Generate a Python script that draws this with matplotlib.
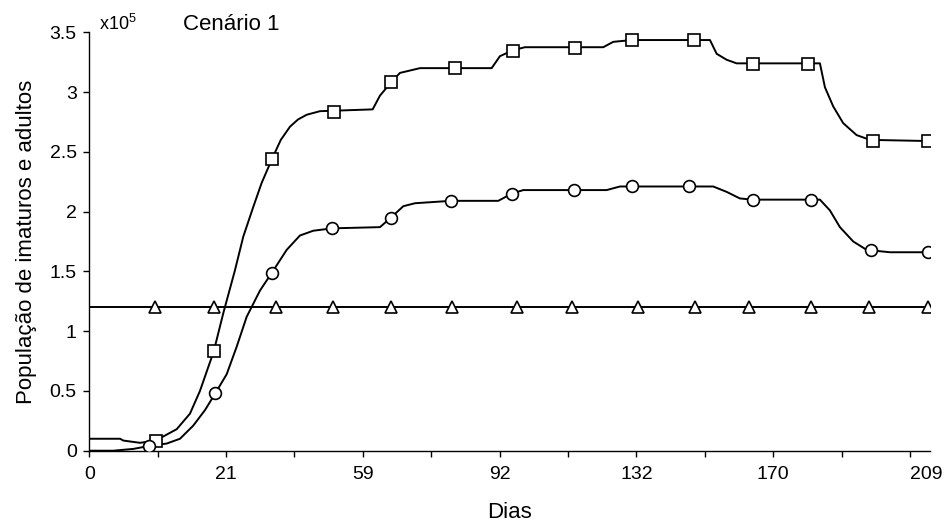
import matplotlib
matplotlib.use("Agg")
import matplotlib.pyplot as plt

plt.rcParams['font.family'] = ['Liberation Sans', 'DejaVu Sans']

# Category-axis positions (tick index units) and labels
tick_labels = ['0', '21', '59', '92', '132', '170', '209']

# Upper curve (squares) - values in units of 1e5
sq_x = [0.0, 0.45, 0.497, 0.741, 0.971, 1.278, 1.472, 1.618, 1.819, 1.959, 2.130, 2.251,
        2.398, 2.520, 2.671, 2.80, 2.934, 3.05, 3.178, 3.373, 4.143, 4.250, 4.411, 4.542, 4.835,
        5.883, 6.004, 6.195, 6.370, 7.515, 7.661, 7.934, 9.075, 9.173, 9.319, 9.465,
        10.683, 10.756, 10.877, 11.023, 11.219, 11.414, 12.29]
sq_y = [0.10, 0.10, 0.085, 0.066, 0.085, 0.18, 0.31, 0.50, 0.83, 1.15, 1.51, 1.79,
        2.04, 2.24, 2.44, 2.60, 2.71, 2.77, 2.81, 2.84, 2.855, 2.97, 3.08, 3.16, 3.20,
        3.20, 3.30, 3.35, 3.375, 3.375, 3.42, 3.435, 3.435, 3.32, 3.27, 3.24,
        3.24, 3.04, 2.88, 2.74, 2.64, 2.60, 2.59]
sq_mx = [0.971, 1.819, 2.671, 3.577, 4.411, 5.347, 6.195, 7.105, 7.934, 8.845,
         9.699, 10.503, 11.462, 12.262]
sq_my = [0.085, 0.83, 2.44, 2.835, 3.08, 3.20, 3.345, 3.37, 3.435, 3.435,
         3.235, 3.235, 2.59, 2.59]

# Middle curve (circles)
ci_x = [0.0, 0.351, 0.643, 0.877, 1.132, 1.326, 1.520, 1.692, 1.842, 2.009, 2.155,
        2.301, 2.496, 2.671, 2.886, 3.080, 3.275, 3.553, 4.250, 4.411, 4.591, 4.762,
        5.288, 5.980, 6.175, 6.345, 7.564, 7.759, 9.123, 9.319, 9.513, 9.699,
        10.683, 10.829, 10.975, 11.170, 11.366, 11.706, 12.29]
ci_y = [0.0, 0.0, 0.015, 0.04, 0.06, 0.10, 0.21, 0.34, 0.48, 0.64, 0.87,
        1.12, 1.34, 1.49, 1.68, 1.80, 1.84, 1.86, 1.87, 1.95, 2.045, 2.07,
        2.09, 2.09, 2.15, 2.18, 2.18, 2.21, 2.21, 2.165, 2.11, 2.10,
        2.10, 2.01, 1.87, 1.75, 1.68, 1.66, 1.66]
ci_mx = [0.877, 1.842, 2.671, 3.553, 4.411, 5.288, 6.175, 7.082, 7.934, 8.768,
         9.699, 10.551, 11.433, 12.262]
ci_my = [0.04, 0.48, 1.49, 1.86, 1.95, 2.09, 2.15, 2.18, 2.21, 2.21,
         2.10, 2.10, 1.68, 1.66]

# Constant line (triangles)
tr_x = [0.0, 12.29]
tr_y = [1.2, 1.2]
tr_mx = [0.965, 1.819, 2.730, 3.558, 4.411, 5.298, 6.257, 7.053, 8.018, 8.855,
         9.645, 10.551, 11.400, 12.262]
tr_my = [1.2] * len(tr_mx)

fig = plt.figure(figsize=(9.44, 5.29), dpi=100)
ax = fig.add_axes([0.0946, 0.148, 0.985 - 0.0946, 0.939 - 0.148])

lw = 1.4
mk = dict(linestyle='none', markerfacecolor='white', markeredgecolor='black',
          markeredgewidth=1.2, zorder=3)
ax.plot(sq_x, sq_y, color='black', lw=lw, zorder=2)
ax.plot(sq_mx, sq_my, marker='s', markersize=8, **mk)
ax.plot(ci_x, ci_y, color='black', lw=lw, zorder=2)
ax.plot(ci_mx, ci_my, marker='o', markersize=8.5, **mk)
ax.plot(tr_x, tr_y, color='black', lw=lw, zorder=2)
ax.plot(tr_mx, tr_my, marker='^', markersize=8, **mk)

ax.set_xlim(0, 12.29)
ax.set_ylim(0, 3.5)

ax.set_xticks([0, 2, 4, 6, 8, 10, 12])
ax.set_xticklabels(tick_labels)
ax.set_xticks([1, 3, 5, 7, 9, 11], minor=True)
labs = ax.get_xticklabels()
labs[-1].set_horizontalalignment('left')

yt = [0, 0.5, 1, 1.5, 2, 2.5, 3, 3.5]
ax.set_yticks(yt)
ax.set_yticklabels(['0', '0.5', '1', '1.5', '2', '2.5', '3', '3.5'])

for s in ['top', 'right']:
    ax.spines[s].set_visible(False)
for s in ['left', 'bottom']:
    ax.spines[s].set_linewidth(1.0)
    ax.spines[s].set_color('black')

ax.tick_params(axis='both', which='both', direction='out', length=4, width=1.0,
               labelsize=14, colors='black')
ax.tick_params(axis='x', which='major', pad=7)
ax.tick_params(axis='y', which='major', pad=5)

ax.set_xlabel('Dias', fontsize=16, labelpad=14)
ax.set_ylabel('População de imaturos e adultos', fontsize=16, labelpad=9)

fig.text(99 / 944, 1 - 30 / 529, r'x10$^{\mathregular{5}}$', fontsize=13,
         ha='left', va='baseline')
fig.text(183 / 944, 1 - 29.5 / 529, 'Cenário 1', fontsize=16,
         ha='left', va='baseline')

fig.savefig('out.png', dpi=100)
